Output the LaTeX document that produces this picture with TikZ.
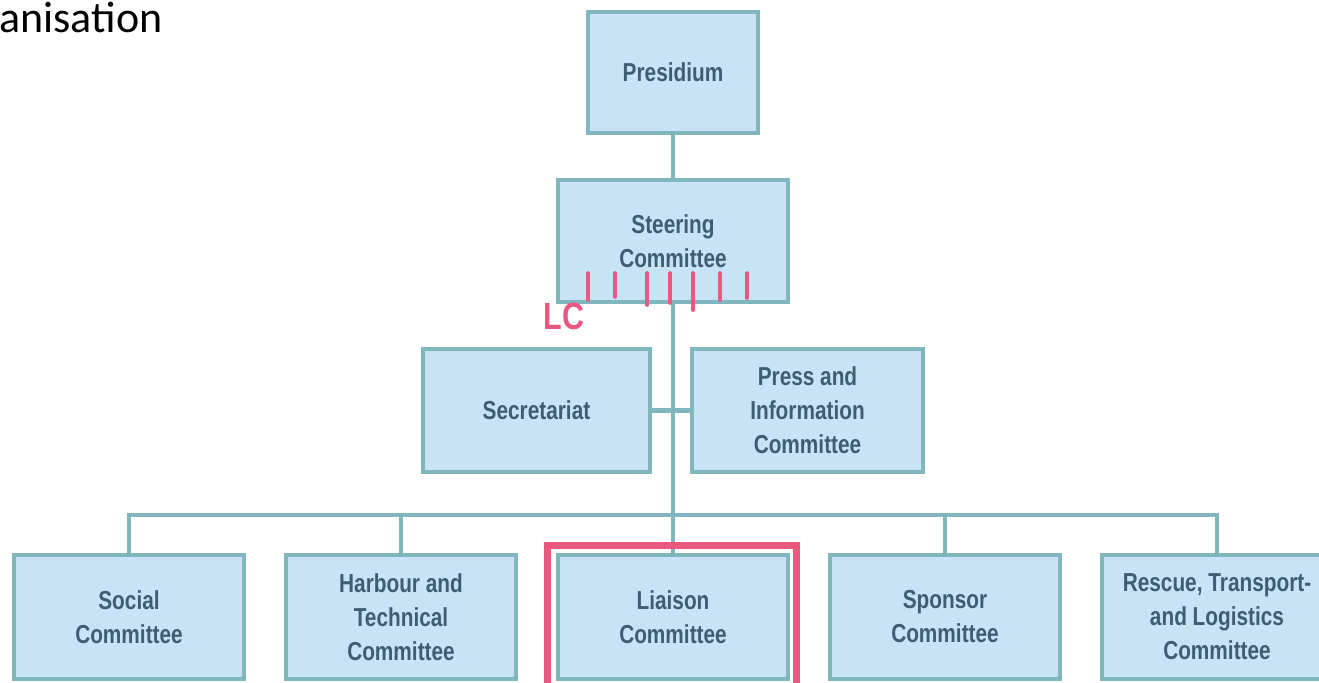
\documentclass[tikz,border=0pt]{standalone}
\usepackage{fontspec}
\newfontfamily\boxfont[FakeStretch=0.8]{Liberation Sans}
\newfontfamily\titlefont{Carlito}
\definecolor{boxfill}{HTML}{C8E3F5}
\definecolor{boxline}{HTML}{80B6BE}
\definecolor{boxtext}{HTML}{3F5D72}
\definecolor{marker}{HTML}{E8587F}
\tikzset{
  orgbox/.style={draw=boxline, fill=boxfill, line width=2pt, text=boxtext,
    font=\boxfont\bfseries\fontsize{13}{17}\selectfont, align=center,
    minimum width=115pt, minimum height=62pt, inner sep=0pt},
  link/.style={draw=boxline, line width=2.2pt},
  pinkmark/.style={draw=marker, line width=1.8pt, line cap=round}
}
\begin{document}
\begin{tikzpicture}[x=0.5pt,y=-0.5pt]
  \useasboundingbox (0,0) rectangle (1319,682);
  \node[anchor=base west, inner sep=0pt, font=\titlefont\fontsize{22}{26}\selectfont] (title) at (-1,32) {anisation};
  \node[orgbox, minimum width=85pt, minimum height=60.5pt] (pres) at (673,72.5) {Presidium};
  \node[orgbox, minimum height=61pt] (steer) at (673,241) {Steering\\Committee};
  \node[orgbox, minimum width=113.5pt, minimum height=61.5pt] (secr) at (536.5,410.5) {Secretariat};
  \node[orgbox, minimum width=115.5pt, minimum height=61.5pt] (press) at (807.5,410.5) {Press and\\Information\\Committee};
  \foreach [count=\i] \n/\t in {social/{Social\\Committee},
      harbour/{Harbour and\\Technical\\Committee}, liaison/{Liaison\\Committee},
      sponsor/{Sponsor\\Committee}, rescue/{Rescue, Transport-\\and Logistics\\Committee}}
    \node[orgbox] (\n) at ({129+272*(\i-1)},617) {\t};
  \coordinate (bus) at (673,515);
  \draw[link] (pres.south) -- (steer.north);
  \draw[link] (steer.south) -- (liaison.north);
  \draw[link] (secr.east) -- (press.west);
  \draw[link] (social.north) |- (bus) -| (rescue.north);
  \foreach \n in {harbour,sponsor}
    \draw[link] (\n.north) -- (\n.north |- bus);
  % pen marks
  \draw[marker, line width=3.5pt] ([shift={(-9,-8)}]liaison.north west) rectangle ([shift={(6,8)}]liaison.south east);
  \foreach \x/\y in {588/300,615/297,647/305,670/303,693/310,720/300,747/298}
    \draw[pinkmark] (\x,273) -- (\x,\y);
  \node[text=marker, inner sep=0pt, font=\boxfont\bfseries\fontsize{19}{19}\selectfont] (lc) at (564,316) {LC};
\end{tikzpicture}
\end{document}
